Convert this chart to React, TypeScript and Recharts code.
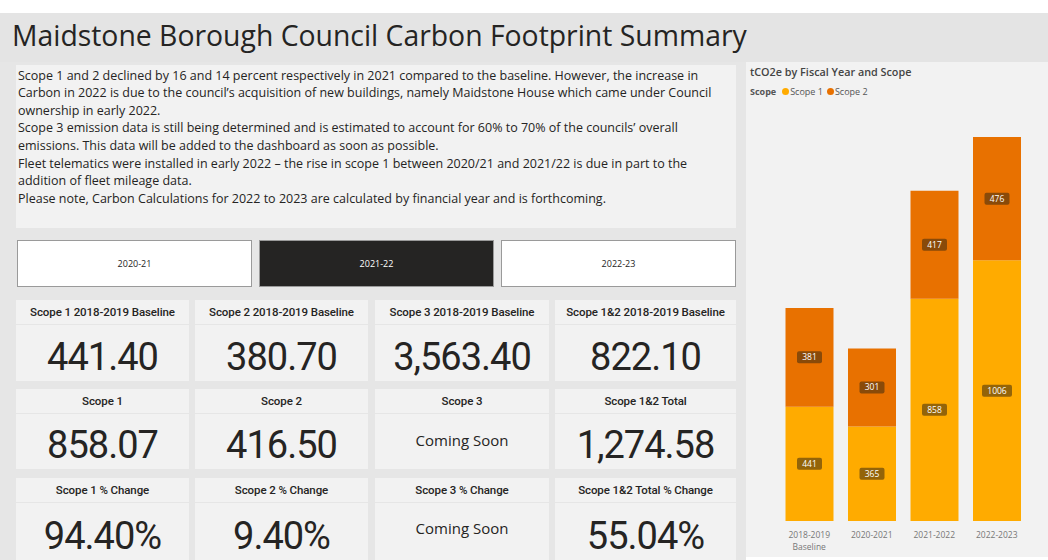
import React from 'react';
import { BarChart, Bar, XAxis, YAxis, LabelList } from 'recharts';

const years = ['2018-2019|Baseline', '2020-2021', '2021-2022', '2022-2023'];
const scope1 = [441, 365, 858, 1006];
const scope2 = [381, 301, 417, 476];
const seriesNames = ['Scope 1', 'Scope 2'];
const seriesColors = ['#FFAB00', '#E87100'];

const fyButtons = ['2020-21', '2021-22', '2022-23'];
const selectedFy = '2021-22';

const baselineTitles = ['Scope 1 2018-2019 Baseline', 'Scope 2 2018-2019 Baseline', 'Scope 3 2018-2019 Baseline', 'Scope 1&2 2018-2019 Baseline'];
const baselineValues = ['441.40', '380.70', '3,563.40', '822.10'];
const currentTitles = ['Scope 1', 'Scope 2', 'Scope 3', 'Scope 1&2 Total'];
const currentValues = ['858.07', '416.50', 'Coming Soon', '1,274.58'];
const changeTitles = ['Scope 1 % Change', 'Scope 2 % Change', 'Scope 3 % Change', 'Scope 1&2 Total % Change'];
const changeValues = ['94.40%', '9.40%', 'Coming Soon', '55.04%'];

const noteLines = [
  'Scope 1 and 2 declined by 16 and 14 percent respectively in 2021 compared to the baseline. However, the increase in',
  'Carbon in 2022 is due to the council\u2019s acquisition of new buildings, namely Maidstone House which came under Council',
  'ownership in early 2022.',
  'Scope 3 emission data is still being determined and is estimated to account for 60% to 70% of the councils\u2019 overall',
  'emissions. This data will be added to the dashboard as soon as possible.',
  'Fleet telematics were installed in early 2022 \u2013 the rise in scope 1 between 2020/21 and 2021/22 is due in part to the',
  'addition of fleet mileage data.',
  'Please note, Carbon Calculations for 2022 to 2023 are calculated by financial year and is forthcoming.',
];

const data = years.map((y, i) => ({ year: y, s1: scope1[i], s2: scope2[i] }));

const SEGOE = '"Open Sans", "Noto Sans", sans-serif';
const DIN = 'Roboto, "Noto Sans", sans-serif';

const BoxLabel = (props: any) => {
  const { x, y, width, height, value } = props;
  if (value == null) return null;
  const cx = x + width / 2;
  const cy = y + height / 2;
  const text = String(value);
  const w = text.length * 5 + 10;
  return (
    <g>
      <rect x={cx - w / 2} y={cy - 6} width={w} height={12} rx={2} fill="#3a2a10" fillOpacity={0.55} />
      <text x={cx} y={cy} dy="0.35em" textAnchor="middle" fontSize={8.5} fill="#fff" fontFamily={SEGOE}>{text}</text>
    </g>
  );
};

const YearTick = (props: any) => {
  const { x, y, payload } = props;
  const lines = String(payload.value).split('|');
  return (
    <text x={x} y={y} textAnchor="middle" fontSize={8.5} fill="#777" fontFamily={SEGOE}>
      {lines.map((l, i) => (
        <tspan key={i} x={x} dy={i === 0 ? 9 : 12}>{l}</tspan>
      ))}
    </text>
  );
};

const colX = [16, 195, 375, 555];
const colW = [173, 173, 174, 181];

function Card({ left, top, width, height, title, value, shift, soonShift }: any) {
  const soon = value === 'Coming Soon';
  const s = soon ? soonShift : shift;
  return (
    <div style={{ position: 'absolute', left, top, width, height }}>
      <div style={{ position: 'absolute', left: 0, top: 0, width, height: 24, background: '#f2f2f2', display: 'flex', alignItems: 'center', justifyContent: 'center', fontFamily: DIN, fontWeight: 500, fontSize: 11.5, color: '#252423', letterSpacing: -0.1, whiteSpace: 'nowrap' }}>{title}</div>
      <div style={{ position: 'absolute', left: 0, top: 25, width, height: height - 25, background: '#f2f2f2' }}>
        <div style={{ position: 'absolute', left: 0, top: s, width, height: height - 25, display: 'flex', alignItems: 'center', justifyContent: 'center', fontFamily: soon ? SEGOE : DIN, fontSize: soon ? 15 : 38, color: '#252423', letterSpacing: soon ? 0 : -1, whiteSpace: 'nowrap' }}>{value}</div>
      </div>
    </div>
  );
}

export default function App() {
  return (
    <div style={{ position: 'absolute', left: 0, top: 0, width: 1048, height: 560, background: '#ffffff', overflow: 'hidden' }}>
      <div style={{ position: 'absolute', left: 0, top: 13, width: 1048, height: 49, background: '#e4e4e4' }}>
        <div style={{ position: 'absolute', left: 12, top: 1, fontFamily: SEGOE, fontSize: 30, color: '#252423', whiteSpace: 'nowrap', transform: 'scaleX(0.945)', transformOrigin: 'left center' }}>Maidstone Borough Council Carbon Footprint Summary</div>
      </div>
      <div style={{ position: 'absolute', left: 0, top: 62, width: 746, height: 498, background: '#e6e6e6' }} />
      <div style={{ position: 'absolute', left: 16, top: 65, width: 720, height: 163, background: '#f2f2f2' }}>
        {noteLines.map((l, i) => (
          <div key={i} style={{ position: 'absolute', left: 2, top: 1.5 + i * 17.6, height: 17.6, lineHeight: '17.6px', fontFamily: SEGOE, fontSize: 12.5, color: '#252423', whiteSpace: 'nowrap' }}>{l}</div>
        ))}
      </div>
      {fyButtons.map((b, i) => {
        const sel = b === selectedFy;
        return (
          <div key={b} style={{ position: 'absolute', left: 17 + i * 242, top: 240, width: 235, height: 47, boxSizing: 'border-box', border: '1px solid #9a9a9a', background: sel ? '#252423' : '#ffffff', color: sel ? '#ffffff' : '#252423', fontFamily: SEGOE, fontSize: 9, display: 'flex', alignItems: 'center', justifyContent: 'center' }}>{b}</div>
        );
      })}
      {baselineTitles.map((t, i) => (
        <Card key={'a' + i} left={colX[i]} top={300} width={colW[i]} height={81} title={t} value={baselineValues[i]} shift={4} soonShift={0} />
      ))}
      {currentTitles.map((t, i) => (
        <Card key={'b' + i} left={colX[i]} top={389} width={colW[i]} height={80} title={t} value={currentValues[i]} shift={3} soonShift={-2} />
      ))}
      {changeTitles.map((t, i) => (
        <Card key={'c' + i} left={colX[i]} top={478} width={colW[i]} height={82} title={t} value={changeValues[i]} shift={4} soonShift={-4} />
      ))}
      <div style={{ position: 'absolute', left: 746, top: 62, width: 302, height: 495, background: '#f2f2f2' }}>
        <div style={{ position: 'absolute', left: 4, top: 2, fontFamily: SEGOE, fontWeight: 600, fontSize: 10.8, color: '#444', whiteSpace: 'nowrap' }}>tCO2e by Fiscal Year and Scope</div>
        <div style={{ position: 'absolute', left: 4, top: 23, display: 'flex', alignItems: 'center', fontFamily: SEGOE, fontSize: 9, color: '#555', whiteSpace: 'nowrap' }}>
          <span style={{ fontWeight: 700, marginRight: 6 }}>Scope</span>
          {seriesNames.map((n, i) => (
            <span key={n} style={{ display: 'flex', alignItems: 'center', marginRight: 4 }}>
              <span style={{ width: 7, height: 7, borderRadius: 4, background: seriesColors[i], display: 'inline-block', marginRight: 1 }} />
              {n}
            </span>
          ))}
        </div>
        <div style={{ position: 'absolute', left: 0, top: 0 }}>
          <BarChart width={302} height={495} data={data} margin={{ top: 75, right: 20, bottom: 6, left: 32 }} barCategoryGap="12%">
            <XAxis dataKey="year" axisLine={false} tickLine={false} interval={0} height={30} tick={<YearTick />} />
            <YAxis hide domain={[0, 'dataMax']} />
            <Bar dataKey="s1" name={seriesNames[0]} stackId="a" fill={seriesColors[0]} isAnimationActive={false}>
              <LabelList dataKey="s1" content={<BoxLabel />} />
            </Bar>
            <Bar dataKey="s2" name={seriesNames[1]} stackId="a" fill={seriesColors[1]} isAnimationActive={false}>
              <LabelList dataKey="s2" content={<BoxLabel />} />
            </Bar>
          </BarChart>
        </div>
      </div>
    </div>
  );
}
